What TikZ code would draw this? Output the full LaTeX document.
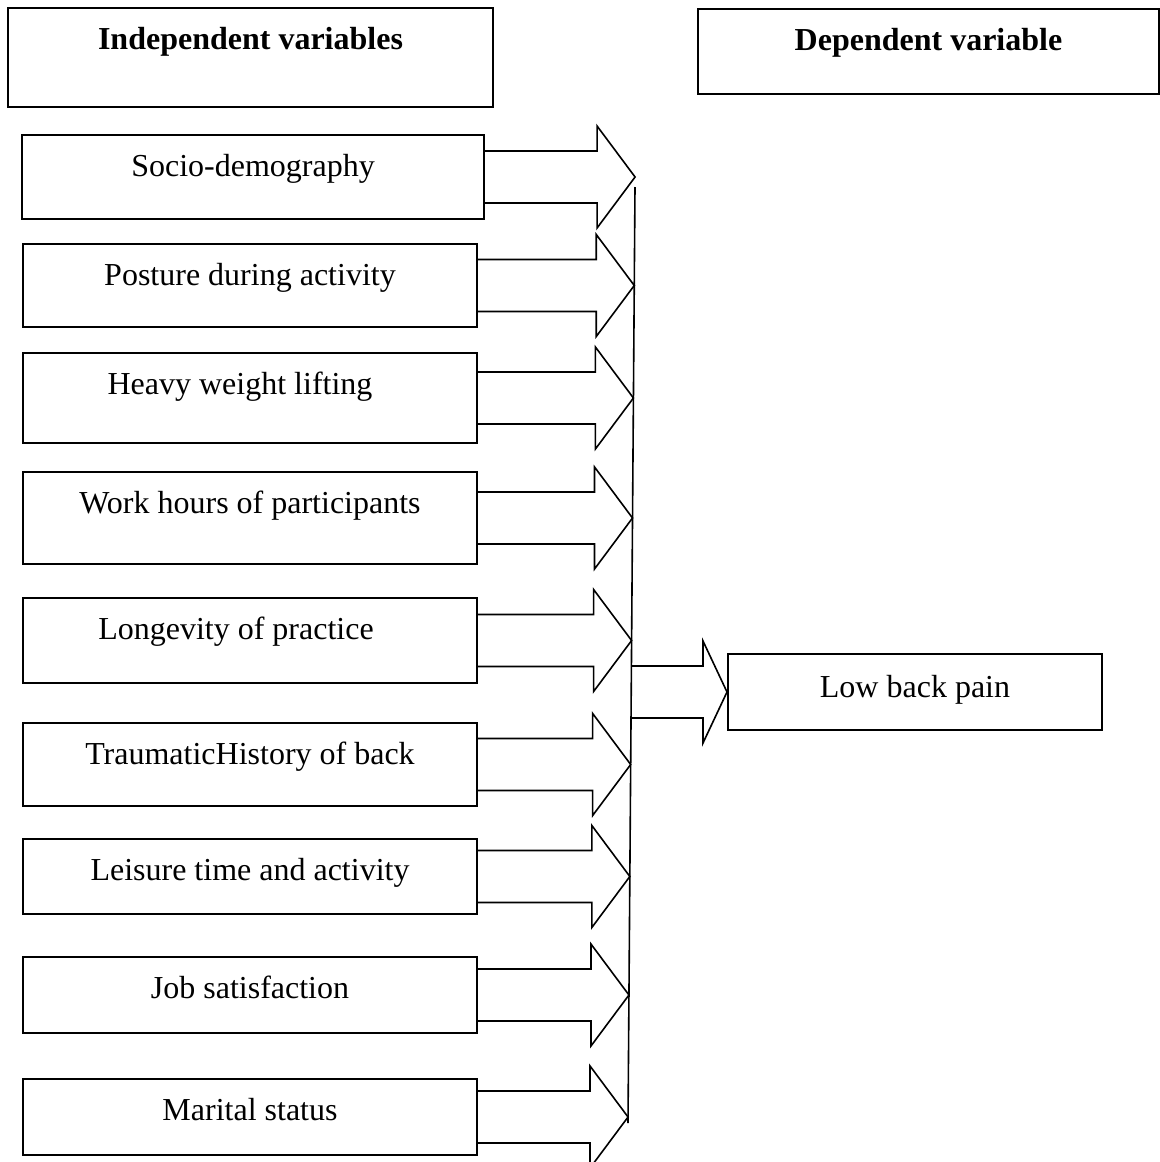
\documentclass[tikz,border=0pt]{standalone}
\usepackage{fontspec}
\setmainfont{Liberation Serif}
\usetikzlibrary{calc}

\begin{document}
\begin{tikzpicture}[
    x=0.5pt, y=-0.5pt,
    varbox/.style 2 args={
        rectangle,
        draw,
        line width=1pt,
        inner sep=0pt,
        anchor=north west,
        minimum width=#1,
        text height=20.5pt,
        text depth=#2,
        font=\fontsize{16}{19}\selectfont
    },
    headbox/.style 2 args={
        varbox={#1}{#2},
        font=\fontsize{16}{19}\selectfont\bfseries
    },
    fatarrow/.style={
        draw,
        line width=0.8pt,
        line join=miter
    },
    busline/.style={
        line width=0.8pt
    }
]
\useasboundingbox (0,0) rectangle (1160,1162);

% Headers
\node[headbox={242.5pt}{29pt}] (ivhead) at (7,7) {Independent variables};
\node[headbox={230.5pt}{22pt}] (dvhead) at (697,8) {Dependent variable};

% Independent variables
\node[varbox={231pt}{21.5pt}] (socio) at (21,134) {Socio-demography};
\node[varbox={227pt}{21pt}] (posture) at (22,243) {Posture during activity};
\node[varbox={227pt}{24.5pt}] (lifting) at (22,352) {\hspace*{-10pt}Heavy weight lifting};
\node[varbox={227pt}{25.5pt}] (workhrs) at (22,471) {Work hours of participants};
\node[varbox={227pt}{22pt}] (longev) at (22,597) {\hspace*{-14pt}Longevity of practice};
\node[varbox={227pt}{21pt}] (trauma) at (22,722) {TraumaticHistory of back};
\node[varbox={227pt}{17pt}] (leisure) at (22,838) {Leisure time and activity};
\node[varbox={227pt}{17.5pt}] (jobsat) at (22,956) {Job satisfaction};
\node[varbox={227pt}{17.5pt}] (marital) at (22,1078) {Marital status};

% Dependent variable
\node[varbox={187pt}{16.5pt}, text height=21.5pt] (lbp) at (727,653) {Low back pain};

% Collecting line
\coordinate (bustop) at (635,187);
\coordinate (busbot) at (628,1123);
\draw[busline] (bustop) -- (busbot);

% Block arrows into the line
\foreach \src in {socio,posture,lifting,workhrs,longev,trauma,leisure,jobsat,marital}{
    \coordinate (foot) at ($(bustop)!(\src.east)!(busbot)$);
    \coordinate (tip) at (foot |- \src.east);
    \draw[fatarrow] ($(\src.east)+(0,-26)$) -- ($(tip)+(-38,-26)$) -- ($(tip)+(-38,-51)$) -- (tip)
        -- ($(tip)+(-38,51)$) -- ($(tip)+(-38,26)$) -- ($(\src.east)+(0,26)$);
}

% Block arrow to outcome
\coordinate (foot) at ($(bustop)!(lbp.west)!(busbot)$);
\coordinate (outbase) at (foot |- lbp.west);
\draw[fatarrow] ($(outbase)+(0,-26)$) -- ($(lbp.west)+(-24,-26)$) -- ($(lbp.west)+(-24,-51)$) -- (lbp.west)
    -- ($(lbp.west)+(-24,51)$) -- ($(lbp.west)+(-24,26)$) -- ($(outbase)+(0,26)$);

\end{tikzpicture}
\end{document}
